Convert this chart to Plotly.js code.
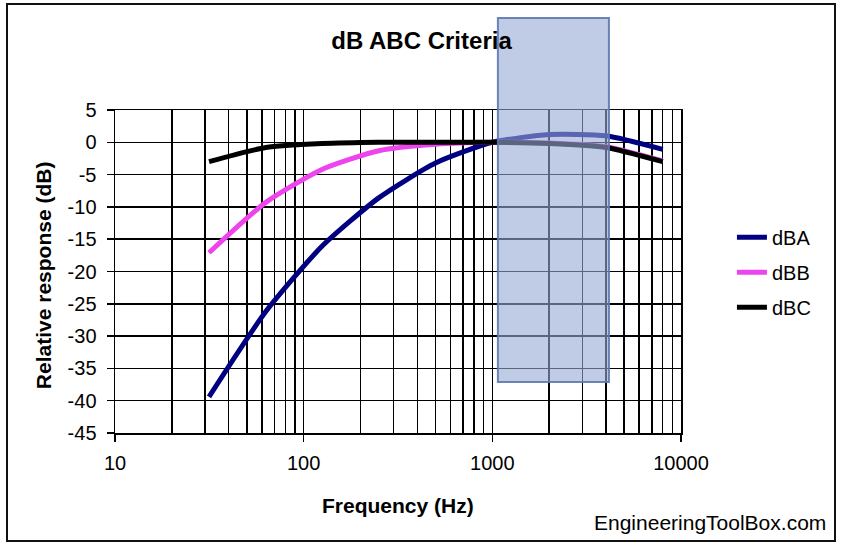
<!DOCTYPE html>
<html>
<head>
<meta charset="utf-8">
<script src="https://cdn.plot.ly/plotly-3.0.1.min.js"></script>
<style>html,body{margin:0;padding:0;background:#fff;}#chart{width:843px;height:543px;}</style>
</head>
<body>
<div id="chart"></div>
<script>
// Octave-band centre frequencies (Hz)
const freq = [31.5, 63, 125, 250, 500, 1000, 2000, 4000, 8000];
// Relative response (dB)
const dBA = [-39.4, -26.2, -16.1, -8.6, -3.2, 0, 1.2, 1.0, -1.1];
const dBB = [-17.1, -9.3, -4.2, -1.3, -0.3, 0, -0.1, -0.7, -2.9];
const dBC = [-3.0, -0.8, -0.2, 0, 0, 0, -0.2, -0.8, -3.0];
const seriesNames = ['dBA', 'dBB', 'dBC'];
const majorTicks = [10, 100, 1000, 10000];
const majorTickText = ['10', '100', '1000', '10000'];
const yTicks = [5, 0, -5, -10, -15, -20, -25, -30, -35, -40, -45];
const yTickText = ['5', '0', '-5', '-10', '-15', '-20', '-25', '-30', '-35', '-40', '-45'];
const minorTicks = [];
[10, 100, 1000].forEach(d => { for (let m = 2; m <= 9; m++) minorTicks.push(d * m); });
// Highlighted band (Hz)
const bandFreq = [1070, 4150];

const FONT = 'Liberation Sans, Arial, sans-serif';
const colors = ['#000080', '#ee44ee', '#000000'];
const data = [dBA, dBB, dBC].map((y, i) => ({
  x: freq, y: y, name: seriesNames[i], type: 'scatter', mode: 'lines',
  line: {color: colors[i], width: 5, shape: 'spline', smoothing: 0.6},
  legendgroup: seriesNames[i]
}));

const layout = {
  width: 843, height: 543,
  margin: {l: 115, r: 162, t: 110, b: 110},
  paper_bgcolor: '#ffffff', plot_bgcolor: '#ffffff',
  font: {family: FONT, color: '#000', size: 19},
  title: {text: '<b>dB ABC Criteria</b>', font: {family: FONT, size: 24, color: '#000'},
          xref: 'container', x: 0.5, xanchor: 'center', yref: 'container', y: 0.925, yanchor: 'middle'},
  xaxis: {
    type: 'log', range: [1, 4],
    tickmode: 'array', tickvals: majorTicks, ticktext: majorTickText,
    ticks: 'outside', ticklen: 7, tickwidth: 1.5, tickcolor: '#000',
    showline: true, linecolor: '#000', linewidth: 1.5, mirror: true,
    showgrid: true, gridcolor: '#000', gridwidth: 1.5,
    minor: {tickmode: 'array', tickvals: minorTicks, showgrid: true, gridcolor: '#000', gridwidth: 1.5, ticks: ''},
    tickfont: {family: FONT, size: 20, color: '#000'},
    ticklabelstandoff: 4,
    zeroline: false
  },
  yaxis: {
    range: [-45, 5], tickmode: 'array', tickvals: yTicks, ticktext: yTickText,
    ticks: 'outside', ticklen: 7, tickwidth: 1.5, tickcolor: '#000',
    showline: true, linecolor: '#000', linewidth: 1.5, mirror: true,
    showgrid: true, gridcolor: '#000', gridwidth: 1.5,
    zeroline: false, ticklabelstandoff: 6,
    tickfont: {family: FONT, size: 20, color: '#000'}
  },
  showlegend: true,
  legend: {x: 1.09, y: 0.498, xanchor: 'left', yanchor: 'middle', bgcolor: 'rgba(0,0,0,0)',
           font: {family: FONT, size: 20, color: '#000'}, traceorder: 'grouped', tracegroupgap: 6},
  shapes: [
    {type: 'rect', xref: 'x', yref: 'paper', x0: bandFreq[0], x1: bandFreq[1], y0: 0.158, y1: 1.285,
     fillcolor: 'rgba(150,168,213,0.6)', line: {color: 'rgba(95,120,175,0.9)', width: 2}, layer: 'above'},
    {type: 'rect', xref: 'paper', yref: 'paper', x0: -0.1908, x1: 1.2721, y0: -0.334, y1: 1.328,
     fillcolor: 'rgba(0,0,0,0)', line: {color: '#111', width: 2}, layer: 'above'}
  ],
  annotations: [
    {text: '<b>Frequency (Hz)</b>', xref: 'paper', yref: 'paper', x: 0.5, y: -0.223,
     xanchor: 'center', yanchor: 'middle', showarrow: false, font: {family: FONT, size: 21, color: '#000'}},
    {text: '<b>Relative response (dB)</b>', xref: 'paper', yref: 'paper', x: -0.127, y: 0.489,
     xanchor: 'center', yanchor: 'middle', textangle: -90, showarrow: false, font: {family: FONT, size: 21, color: '#000'}},
    {text: 'EngineeringToolBox.com', xref: 'paper', yref: 'paper', x: 1.26, y: -0.276,
     xanchor: 'right', yanchor: 'middle', showarrow: false, font: {family: FONT, size: 21, color: '#000'}}
  ]
};

Plotly.newPlot('chart', data, layout, {displayModeBar: false, staticPlot: true});
</script>
</body>
</html>
